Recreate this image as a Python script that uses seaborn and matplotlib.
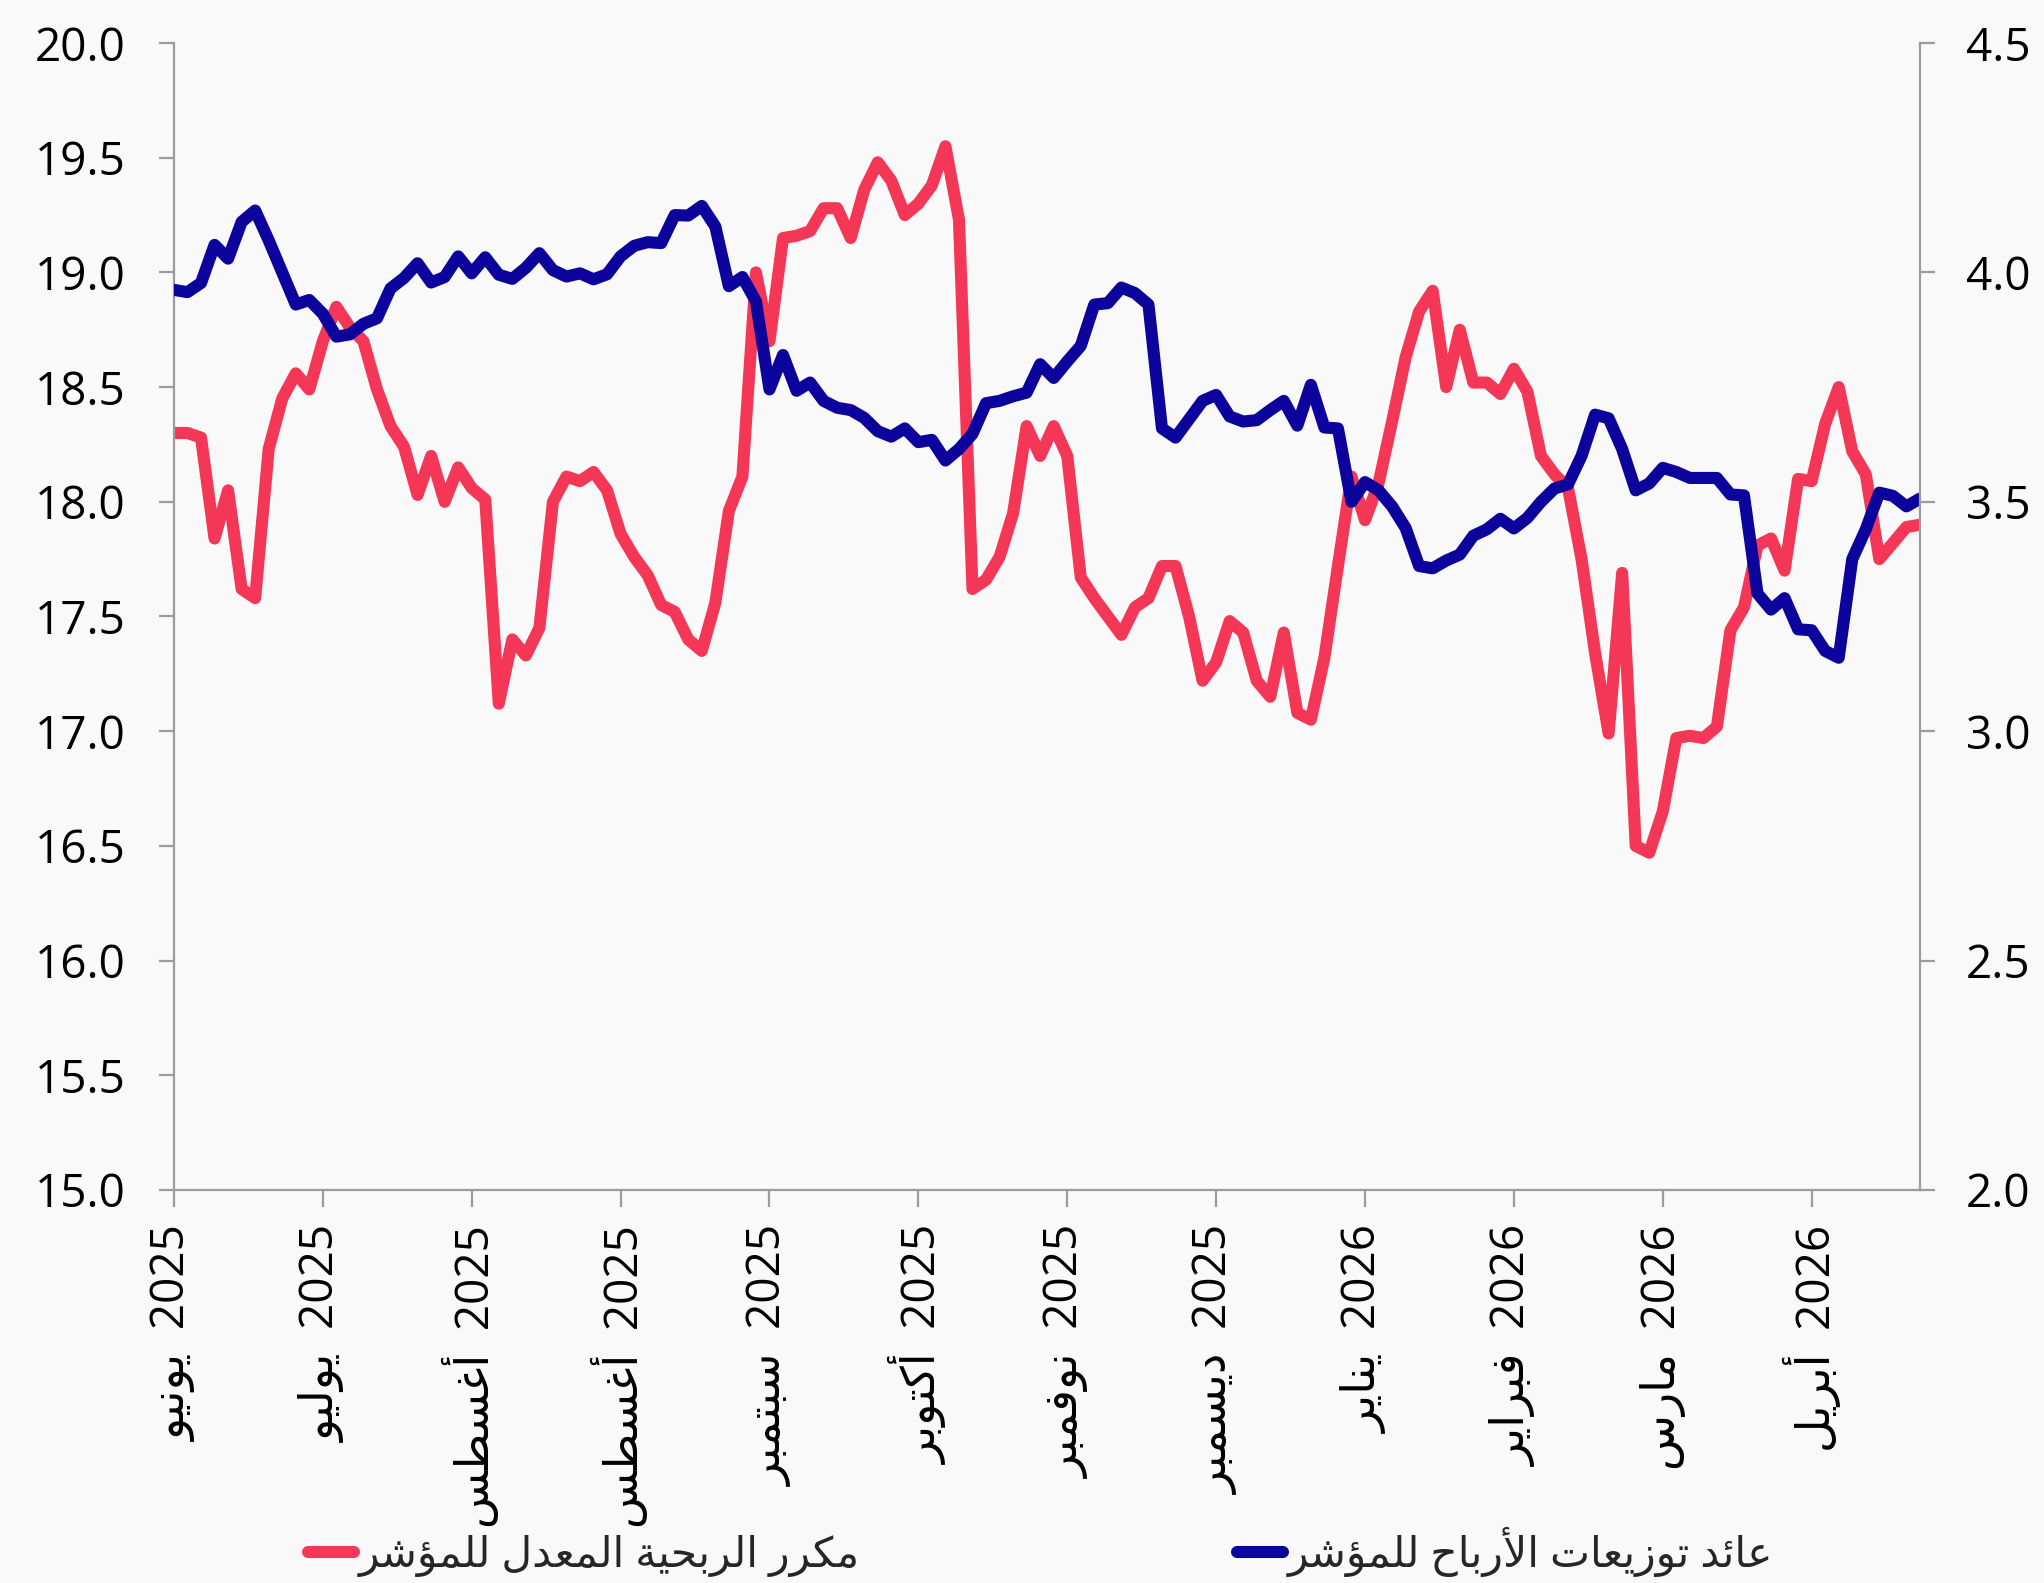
import numpy as np
import pandas as pd
import matplotlib
matplotlib.use("Agg")
import matplotlib.pyplot as plt
import seaborn as sns
from matplotlib.lines import Line2D

# ---- data -----------------------------------------------------------------
months = ["يونيو", "يوليو", "أغسطس", "أغسطس", "سبتمبر", "أكتوبر",
          "نوفمبر", "ديسمبر", "يناير", "فبراير", "مارس", "أبريل"]
years = ["2025"] * 8 + ["2026"] * 4
tick_step = 11  # observations between labelled ticks

pe_ratio = [
    18.30, 18.30, 18.28, 17.84, 18.05, 17.62, 17.58, 18.23, 18.45, 18.56,
    18.49, 18.70, 18.85, 18.76, 18.70, 18.49, 18.33, 18.24, 18.03, 18.20,
    18.00, 18.15, 18.06, 18.01, 17.12, 17.40, 17.33, 17.45, 18.00, 18.11,
    18.09, 18.13, 18.05, 17.86, 17.76, 17.68, 17.55, 17.52, 17.40, 17.35,
    17.56, 17.96, 18.11, 19.00, 18.70, 19.15, 19.16, 19.18, 19.28, 19.28,
    19.15, 19.36, 19.48, 19.40, 19.25, 19.30, 19.38, 19.55, 19.23, 17.62,
    17.66, 17.76, 17.95, 18.33, 18.20, 18.33, 18.20, 17.67, 17.58, 17.50,
    17.42, 17.54, 17.58, 17.72, 17.72, 17.50, 17.22, 17.30, 17.48, 17.43,
    17.22, 17.15, 17.43, 17.08, 17.05, 17.32, 17.72, 18.11, 17.92, 18.08,
    18.35, 18.63, 18.83, 18.92, 18.50, 18.75, 18.52, 18.52, 18.47, 18.58,
    18.48, 18.20, 18.12, 18.06, 17.75, 17.34, 16.99, 17.69, 16.50, 16.47,
    16.65, 16.97, 16.98, 16.97, 17.02, 17.44, 17.54, 17.81, 17.84, 17.70,
    18.10, 18.09, 18.34, 18.50, 18.22, 18.12, 17.75, 17.82, 17.89, 17.90,
]

div_yield = [
    3.962, 3.957, 3.977, 4.060, 4.030, 4.110, 4.135, 4.070, 4.000, 3.930,
    3.940, 3.910, 3.860, 3.865, 3.888, 3.900, 3.965, 3.988, 4.020, 3.978,
    3.990, 4.035, 3.998, 4.033, 3.995, 3.986, 4.010, 4.042, 4.005, 3.991,
    3.998, 3.985, 3.996, 4.035, 4.058, 4.066, 4.064, 4.125, 4.124, 4.145,
    4.100, 3.970, 3.990, 3.937, 3.745, 3.820, 3.742, 3.760, 3.720, 3.705,
    3.700, 3.683, 3.654, 3.642, 3.660, 3.630, 3.635, 3.590, 3.615, 3.648,
    3.715, 3.720, 3.730, 3.738, 3.800, 3.770, 3.806, 3.840, 3.930, 3.933,
    3.967, 3.955, 3.930, 3.660, 3.640, 3.680, 3.720, 3.733, 3.686, 3.675,
    3.678, 3.700, 3.720, 3.666, 3.755, 3.662, 3.660, 3.500, 3.543, 3.525,
    3.490, 3.443, 3.360, 3.355, 3.372, 3.385, 3.426, 3.440, 3.463, 3.442,
    3.465, 3.500, 3.529, 3.538, 3.600, 3.690, 3.682, 3.615, 3.525, 3.540,
    3.574, 3.565, 3.552, 3.552, 3.552, 3.516, 3.514, 3.300, 3.265, 3.290,
    3.222, 3.220, 3.175, 3.160, 3.375, 3.440, 3.520, 3.513, 3.490, 3.507,
]

pe_label = "مكرر الربحية المعدل للمؤشر"
dy_label = "عائد توزيعات الأرباح للمؤشر"

pe_ticks = [15.0, 15.5, 16.0, 16.5, 17.0, 17.5, 18.0, 18.5, 19.0, 19.5, 20.0]
dy_ticks = [2.0, 2.5, 3.0, 3.5, 4.0, 4.5]

# ---- Arabic contextual shaping (matplotlib draws glyphs without shaping) ----
_BASE = {"ء": 0xFE80, "آ": 0xFE81, "أ": 0xFE83, "ؤ": 0xFE85, "إ": 0xFE87,
         "ئ": 0xFE89, "ا": 0xFE8D, "ب": 0xFE8F, "ة": 0xFE93, "ت": 0xFE95,
         "ث": 0xFE99, "ج": 0xFE9D, "ح": 0xFEA1, "خ": 0xFEA5, "د": 0xFEA9,
         "ذ": 0xFEAB, "ر": 0xFEAD, "ز": 0xFEAF, "س": 0xFEB1, "ش": 0xFEB5,
         "ص": 0xFEB9, "ض": 0xFEBD, "ط": 0xFEC1, "ظ": 0xFEC5, "ع": 0xFEC9,
         "غ": 0xFECD, "ف": 0xFED1, "ق": 0xFED5, "ك": 0xFED9, "ل": 0xFEDD,
         "م": 0xFEE1, "ن": 0xFEE5, "ه": 0xFEE9, "و": 0xFEED, "ى": 0xFEEF,
         "ي": 0xFEF1}
_RIGHT_ONLY = set("آأؤإاةدذرزوى")
_NON_JOIN = {"ء"}
_LAM_ALEF = {"آ": 0xFEF5, "أ": 0xFEF7, "إ": 0xFEF9, "ا": 0xFEFB}


def _joins_next(c):
    return c in _BASE and c not in _RIGHT_ONLY and c not in _NON_JOIN


def _joins_prev(c):
    return c in _BASE and c not in _NON_JOIN


def shape_ar(text):
    """Return Arabic text in presentation forms, in visual (left-to-right) order."""
    out, prev, k = [], None, 0
    while k < len(text):
        c = text[k]
        if c not in _BASE:
            out.append(c)
            prev = None
            k += 1
            continue
        link_prev = prev is not None and _joins_next(prev)
        if c == "ل" and k + 1 < len(text) and text[k + 1] in _LAM_ALEF:
            out.append(chr(_LAM_ALEF[text[k + 1]] + (1 if link_prev else 0)))
            prev = "ا"
            k += 2
            continue
        nxt = text[k + 1] if k + 1 < len(text) else None
        link_next = _joins_next(c) and nxt is not None and _joins_prev(nxt)
        base = _BASE[c]
        if link_prev and link_next:
            code = base + 3
        elif link_prev:
            code = base + 1
        elif link_next:
            code = base + 2
        else:
            code = base
        out.append(chr(code))
        prev = c
        k += 1
    return "".join(out)[::-1]


# ---- styling ----------------------------------------------------------------
sns.set_theme(style="white")
plt.rcParams["font.family"] = ["Open Sans", "DejaVu Sans"]

BG = "#f9f9f9"
RED = "#f43757"
BLUE = "#0b039b"
AXIS = "#9c9c9c"
LW = 8.7
FS = 33
LEG_FS = 30.5

df = pd.DataFrame({"obs": np.arange(len(pe_ratio)),
                   "pe": pe_ratio, "dy": div_yield})

fig = plt.figure(figsize=(20.44, 15.83), dpi=100, facecolor=BG)
ax = fig.add_axes([0.0851, 0.2483, 0.9393 - 0.0851, 0.9728 - 0.2483])
ax.set_facecolor(BG)

line_kw = dict(linewidth=LW, solid_capstyle="round", solid_joinstyle="round",
               legend=False)
sns.lineplot(data=df, x="obs", y="pe", ax=ax, color=RED, **line_kw)
ax2 = ax.twinx()
sns.lineplot(data=df, x="obs", y="dy", ax=ax2, color=BLUE, **line_kw)

ax.set_xlim(0, len(pe_ratio) - 1)
ax.set_ylim(pe_ticks[0], pe_ticks[-1])
ax2.set_ylim(dy_ticks[0], dy_ticks[-1])
ax.set_yticks(pe_ticks)
ax.set_yticklabels([f"{v:.1f}" for v in pe_ticks])
ax2.set_yticks(dy_ticks)
ax2.set_yticklabels([f"{v:.1f}" for v in dy_ticks])

xt = np.arange(0, len(pe_ratio), tick_step)[:len(months)]
ax.set_xticks(xt)
ax.set_xticklabels([shape_ar(m) + "  " + y for m, y in zip(months, years)],
                   rotation=90)

for a in (ax, ax2):
    a.set_xlabel("")
    a.set_ylabel("")
    a.grid(False)
    for s in a.spines.values():
        s.set_color(AXIS)
        s.set_linewidth(1.6)
    a.spines["top"].set_visible(False)
ax.spines["right"].set_visible(False)
ax2.spines["left"].set_visible(False)
ax2.spines["bottom"].set_visible(False)

ax.tick_params(axis="y", left=True, direction="out", length=11, width=1.6,
               color=AXIS, pad=24, labelsize=FS, labelcolor="black")
ax.tick_params(axis="x", bottom=True, direction="out", length=12, width=1.6,
               color=AXIS, pad=13, labelsize=FS, labelcolor="black")
ax2.tick_params(axis="y", right=True, direction="out", length=11, width=1.6,
                color=AXIS, pad=22, labelsize=FS, labelcolor="black")

handles = [Line2D([], [], color=RED, linewidth=LW, solid_capstyle="round"),
           Line2D([], [], color=BLUE, linewidth=LW, solid_capstyle="round")]
fig.legend(handles, [shape_ar(pe_label), shape_ar(dy_label)], ncol=2,
           loc="center", bbox_to_anchor=(0.509, 0.0195), frameon=False,
           fontsize=LEG_FS, handlelength=1.1, handletextpad=0.1,
           columnspacing=8.9)

fig.savefig("out.png", dpi=100, facecolor=BG)
